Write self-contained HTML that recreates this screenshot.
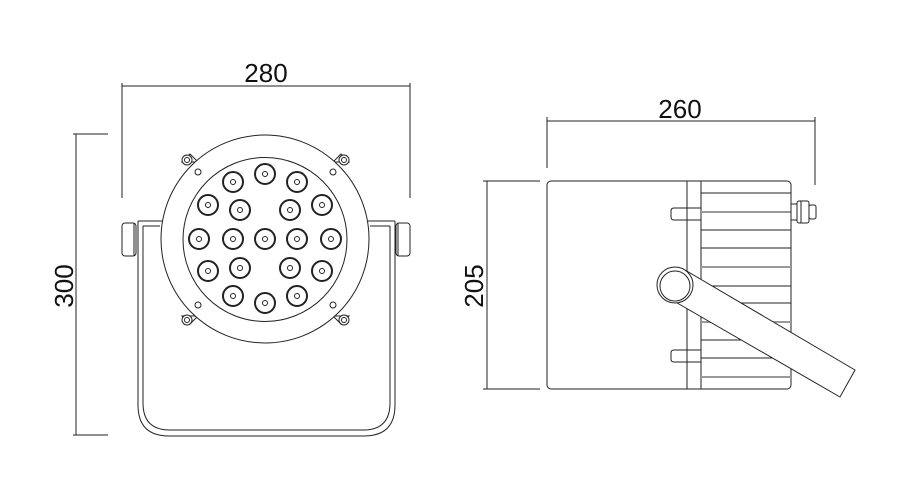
<!DOCTYPE html>
<html><head><style>body{margin:0;background:#fff}svg{display:block}</style></head><body>
<svg width="900" height="500" viewBox="0 0 900 500" xmlns="http://www.w3.org/2000/svg" font-family="Liberation Sans, sans-serif">
<g fill="none" stroke="#222" stroke-width="1">
<line x1="122" y1="86" x2="410" y2="86"/>
<line x1="122" y1="83" x2="122" y2="198"/>
<line x1="410" y1="83" x2="410" y2="198"/>
<line x1="76" y1="134" x2="76" y2="435"/>
<line x1="73" y1="134" x2="108" y2="134"/>
<line x1="73" y1="435" x2="108" y2="435"/>
<path d="M138 221 V405 Q138 436 169 436 H364 Q395 436 395 405 V221"/>
<path d="M143 226 V403 Q143 430 170 430 H363 Q390 430 390 403 V226"/>
<line x1="138" y1="221" x2="162" y2="221"/>
<line x1="368" y1="221" x2="395" y2="221"/>
<line x1="143" y1="226" x2="160" y2="226"/>
<line x1="370" y1="226" x2="390" y2="226"/>
<rect x="122" y="223" width="14" height="33" rx="3"/>
<line x1="134" y1="223" x2="134" y2="256"/>
<rect x="396" y="223" width="14" height="33" rx="3"/>
<line x1="398" y1="223" x2="398" y2="256"/>
<path d="M182 162 L190 154 L198 162 Z M182 316 L190 324 L198 316 Z M349 162 L341 154 L333 162 Z M349 316 L341 324 L333 316 Z" fill="#fff"/>
<circle cx="265" cy="239" r="104" fill="#fff"/>
<circle cx="265" cy="239.5" r="82"/>
<g>
<circle cx="187" cy="160" r="5" fill="#fff"/><circle cx="187" cy="160" r="2.5"/>
<circle cx="344" cy="160" r="5" fill="#fff"/><circle cx="344" cy="160" r="2.5"/>
<circle cx="187" cy="320" r="5" fill="#fff"/><circle cx="187" cy="320" r="2.5"/>
<circle cx="344" cy="320" r="5" fill="#fff"/><circle cx="344" cy="320" r="2.5"/>
<circle cx="198" cy="172" r="3"/><circle cx="333" cy="172" r="3"/>
<circle cx="198" cy="305" r="3"/><circle cx="333" cy="305" r="3"/>
</g>
<g stroke-width="2">
<circle cx="265" cy="174" r="10"/><circle cx="233" cy="182" r="10"/><circle cx="297" cy="182" r="10"/>
<circle cx="208" cy="205" r="10"/><circle cx="322" cy="205" r="10"/>
<circle cx="240" cy="210" r="10"/><circle cx="290" cy="210" r="10"/>
<circle cx="199" cy="239" r="10"/><circle cx="233" cy="239" r="10"/><circle cx="265" cy="239" r="10"/><circle cx="297" cy="239" r="10"/><circle cx="331" cy="239" r="10"/>
<circle cx="240" cy="268" r="10"/><circle cx="290" cy="268" r="10"/>
<circle cx="208" cy="271" r="10"/><circle cx="322" cy="271" r="10"/>
<circle cx="233" cy="296" r="10"/><circle cx="297" cy="296" r="10"/><circle cx="265" cy="303" r="10"/>
</g>
<g>
<circle cx="265" cy="174" r="2.5"/><circle cx="233" cy="182" r="2.5"/><circle cx="297" cy="182" r="2.5"/>
<circle cx="208" cy="205" r="2.5"/><circle cx="322" cy="205" r="2.5"/>
<circle cx="240" cy="210" r="2.5"/><circle cx="290" cy="210" r="2.5"/>
<circle cx="199" cy="239" r="2.5"/><circle cx="233" cy="239" r="2.5"/><circle cx="265" cy="239" r="2.5"/><circle cx="297" cy="239" r="2.5"/><circle cx="331" cy="239" r="2.5"/>
<circle cx="240" cy="268" r="2.5"/><circle cx="290" cy="268" r="2.5"/>
<circle cx="208" cy="271" r="2.5"/><circle cx="322" cy="271" r="2.5"/>
<circle cx="233" cy="296" r="2.5"/><circle cx="297" cy="296" r="2.5"/><circle cx="265" cy="303" r="2.5"/>
</g>
<line x1="547" y1="121" x2="815" y2="121"/>
<line x1="547" y1="117" x2="547" y2="168"/>
<line x1="815" y1="117" x2="815" y2="185"/>
<line x1="487" y1="181" x2="487" y2="389"/>
<line x1="483" y1="181" x2="540" y2="181"/>
<line x1="483" y1="389" x2="540" y2="389"/>
<rect x="547" y="181" width="244" height="208" rx="4"/>
<line x1="687" y1="181" x2="687" y2="389"/>
<line x1="701" y1="181" x2="701" y2="389"/>
<g>
<line x1="701" y1="193" x2="791" y2="193"/>
<line x1="701" y1="230" x2="791" y2="230"/>
<line x1="701" y1="248" x2="791" y2="248"/>
<line x1="701" y1="286" x2="791" y2="286"/>
<line x1="701" y1="303" x2="791" y2="303"/>
<line x1="701" y1="340" x2="791" y2="340"/>
<line x1="701" y1="358" x2="791" y2="358"/>
</g>
<g stroke="#999" stroke-width="2">
<line x1="701" y1="212" x2="791" y2="212"/>
<line x1="701" y1="267" x2="791" y2="267"/>
<line x1="701" y1="322" x2="791" y2="322"/>
<line x1="701" y1="377" x2="791" y2="377"/>
</g>
<path d="M701 208 H674 Q671 208 671 211 V217 Q671 220 674 220 H701"/>
<path d="M701 350 H674 Q671 350 671 353 V359 Q671 362 674 362 H701"/>
<rect x="791" y="204" width="6" height="16"/>
<rect x="797" y="201" width="12" height="22" rx="2"/>
<line x1="801" y1="201" x2="801" y2="223"/>
<rect x="809" y="205" width="7" height="14" rx="2"/>
<path d="M685 270 L855 370 L840 397 L672 300" fill="#fff"/>
<circle cx="675" cy="285" r="18" fill="#fff"/>
<circle cx="675" cy="286" r="15"/>
</g>
<g fill="#111" font-size="26">
<text x="266" y="82" text-anchor="middle">280</text>
<text x="680" y="118" text-anchor="middle">260</text>
<text transform="translate(73,286) rotate(-90)" text-anchor="middle">300</text>
<text transform="translate(483,286) rotate(-90)" text-anchor="middle">205</text>
</g>
</svg>
</body></html>
